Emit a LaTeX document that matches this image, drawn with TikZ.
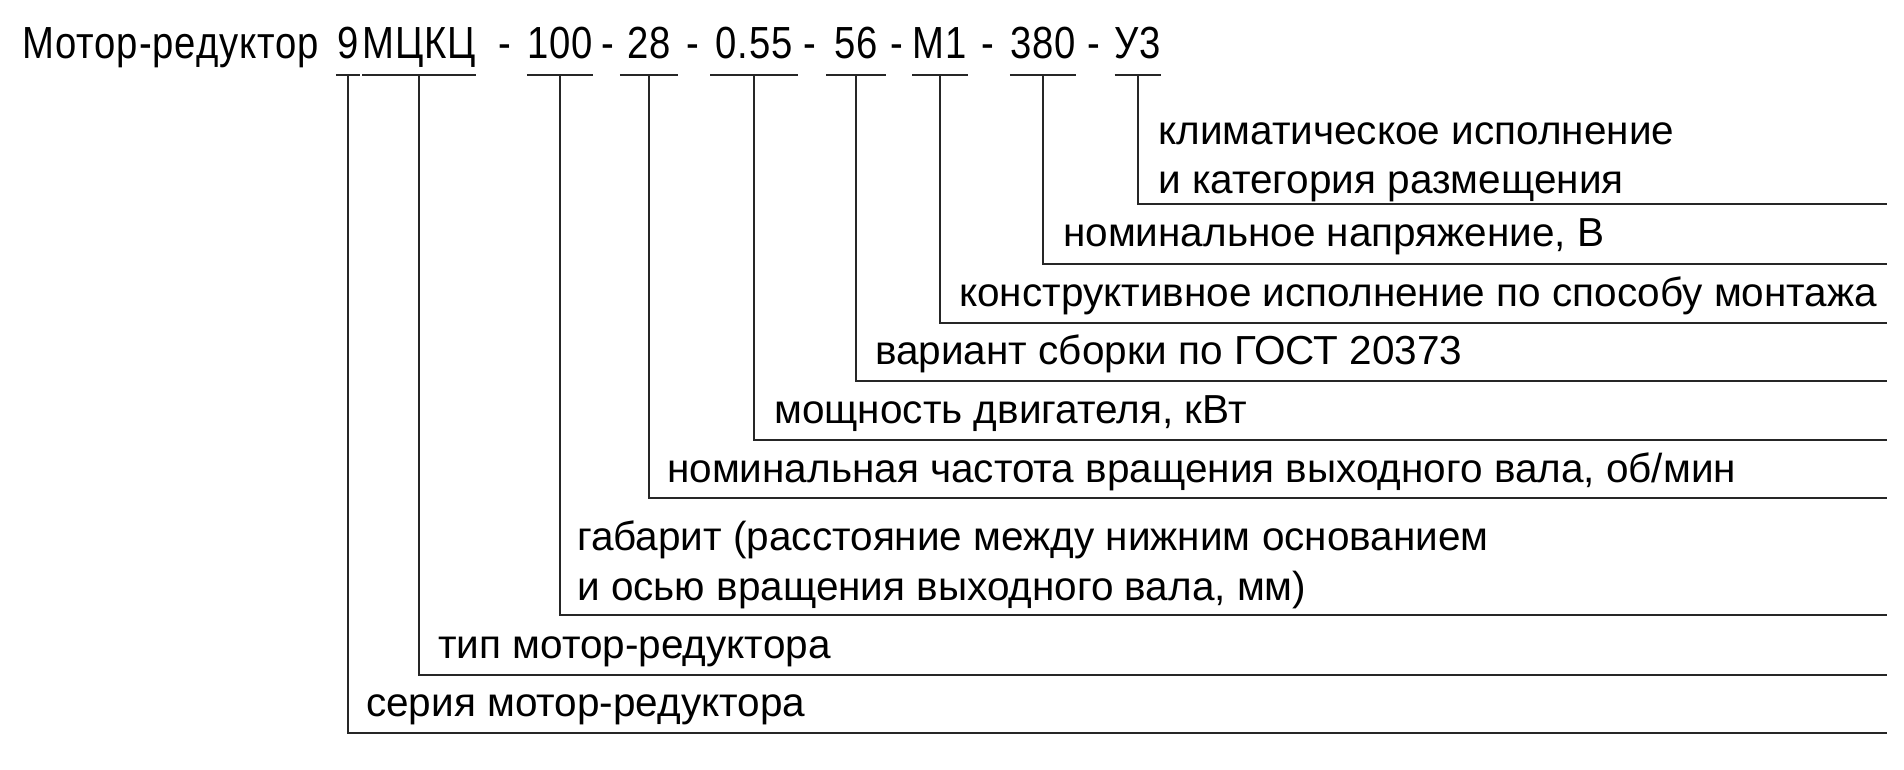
\documentclass[tikz,border=0pt]{standalone}
\usepackage{fontspec}
\setmainfont{Liberation Sans}
\newfontfamily\headfont[FakeStretch=0.85, LetterSpace=2]{Liberation Sans}
\usetikzlibrary{positioning}

\tikzset{
  lead/.style={draw=black!85, line width=2pt},
  token/.style={font=\headfont\fontsize{45}{50}\selectfont, anchor=base, inner xsep=0pt, inner ysep=16pt, text depth=0pt},
  lbl/.style={font=\fontsize{40.5}{49.5}\selectfont, anchor=base west, inner sep=0pt, align=left}
}

\begin{document}
\begin{tikzpicture}[x=1pt, y=-1pt]
  \useasboundingbox (0,0) rectangle (1904,770);

  % Designation line
  \node[token, anchor=base west] (title) at (22,59) {Мотор-редуктор};
  \node[token, minimum width=24pt] (ser) at (348,59) {9};
  \node[token, minimum width=111pt] (typ) at (419,59) {МЦКЦ};
  \node[token] (d1) at (505,59) {-};
  \node[token, minimum width=61pt] (gab) at (560,59) {100};
  \node[token] (d2) at (608,59) {-};
  \node[token, minimum width=58pt] (spd) at (649,59) {28};
  \node[token] (d3) at (693,59) {-};
  \node[token, minimum width=87pt] (pwr) at (754,59) {0.55};
  \node[token] (d4) at (810,59) {-};
  \node[token, minimum width=59pt] (asm) at (856,59) {56};
  \node[token] (d5) at (897,59) {-};
  \node[token, minimum width=55pt] (mnt) at (940,59) {М1};
  \node[token] (d6) at (988,59) {-};
  \node[token, minimum width=66pt] (volt) at (1043,59) {380};
  \node[token] (d7) at (1094,59) {-};
  \node[token, minimum width=46pt] (clim) at (1138,59) {У3};

  % Right ends of the leader lines
  \coordinate (e-clim) at (1887,204);
  \coordinate (e-volt) at (1887,264);
  \coordinate (e-mnt) at (1887,323);
  \coordinate (e-asm) at (1887,381);
  \coordinate (e-pwr) at (1887,440);
  \coordinate (e-spd) at (1887,498);
  \coordinate (e-gab) at (1887,615);
  \coordinate (e-typ) at (1887,675);
  \coordinate (e-ser) at (1887,733);

  % Underlines
  \draw[lead] (ser.south west) -- (ser.south east);
  \draw[lead] (typ.south west) -- (typ.south east);
  \draw[lead] (gab.south west) -- (gab.south east);
  \draw[lead] (spd.south west) -- (spd.south east);
  \draw[lead] (pwr.south west) -- (pwr.south east);
  \draw[lead] (asm.south west) -- (asm.south east);
  \draw[lead] (mnt.south west) -- (mnt.south east);
  \draw[lead] (volt.south west) -- (volt.south east);
  \draw[lead] (clim.south west) -- (clim.south east);

  % Leaders
  \draw[lead] (clim.south) -- (clim.south |- e-clim) -- (e-clim);
  \draw[lead] (volt.south) -- (volt.south |- e-volt) -- (e-volt);
  \draw[lead] (mnt.south) -- (mnt.south |- e-mnt) -- (e-mnt);
  \draw[lead] (asm.south) -- (asm.south |- e-asm) -- (e-asm);
  \draw[lead] (pwr.south) -- (pwr.south |- e-pwr) -- (e-pwr);
  \draw[lead] (spd.south) -- (spd.south |- e-spd) -- (e-spd);
  \draw[lead] (gab.south) -- (gab.south |- e-gab) -- (e-gab);
  \draw[lead] (typ.south) -- (typ.south |- e-typ) -- (e-typ);
  \draw[lead] (ser.south) -- (ser.south |- e-ser) -- (e-ser);

  % Explanations
  \node[lbl] (l-clim) at (1158,194) {климатическое исполнение\\и категория размещения};
  \node[lbl] (l-volt) at (1063,247) {номинальное напряжение, В};
  \node[lbl] (l-mnt) at (959,306) {конструктивное исполнение по способу монтажа};
  \node[lbl] (l-asm) at (875,364) {вариант сборки по ГОСТ 20373};
  \node[lbl] (l-pwr) at (774,423) {мощность двигателя, кВт};
  \node[lbl] (l-spd) at (667,482) {номинальная частота вращения выходного вала, об/мин};
  \node[lbl] (l-gab) at (577,600) {габарит (расстояние между нижним основанием\\и осью вращения выходного вала, мм)};
  \node[lbl] (l-typ) at (438,658) {тип мотор-редуктора};
  \node[lbl] (l-ser) at (366,716) {серия мотор-редуктора};
\end{tikzpicture}
\end{document}
